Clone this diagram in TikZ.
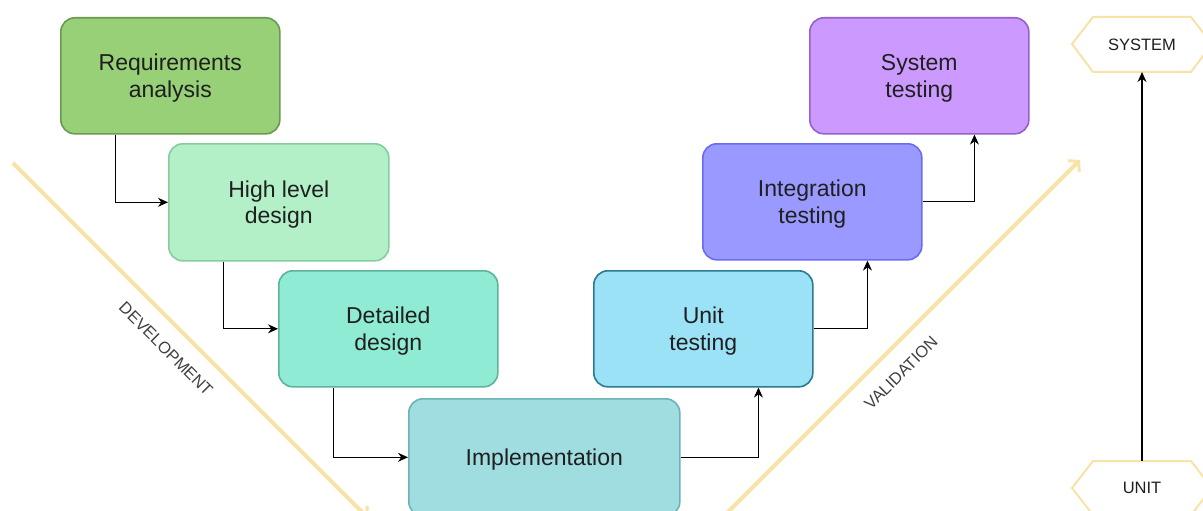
\documentclass[tikz,border=0pt]{standalone}
\usepackage{fontspec}
\setmainfont{Liberation Sans}
\usetikzlibrary{arrows.meta,calc}
\definecolor{reqF}{HTML}{97D077}\definecolor{reqD}{HTML}{6A9A52}
\definecolor{hldF}{HTML}{B3F0C8}\definecolor{hldD}{HTML}{86CC9E}
\definecolor{ddF}{HTML}{8FEBD3}\definecolor{ddD}{HTML}{5DB39B}
\definecolor{impF}{HTML}{A0DDE0}\definecolor{impD}{HTML}{6CB3B8}
\definecolor{unitF}{HTML}{9CE2F7}\definecolor{unitD}{HTML}{2B7A8F}
\definecolor{intF}{HTML}{9999FF}\definecolor{intD}{HTML}{6B6BF2}
\definecolor{sysF}{HTML}{CC99FF}\definecolor{sysD}{HTML}{9461CC}
\definecolor{diagC}{HTML}{F7E2A8}
\definecolor{txtC}{HTML}{1F1F1F}
\begin{document}
\begin{tikzpicture}[x=1pt,y=-1pt,
  stage/.style={draw, line width=1.6pt, rounded corners=14pt, minimum width=219pt, minimum height=116pt,
    anchor=north west, inner sep=0pt},
  stagetext/.style={align=center, text=txtC, font=\fontsize{23}{26.5}\selectfont, inner sep=0pt},
  conn/.style={draw=black, line width=1.2pt, -{Stealth[length=10pt,width=9pt]}},
  diag/.style={draw=diagC, line width=4pt, -{Straight Barb[length=7pt,width=16pt,line width=3pt]}},
  lbl/.style={text=txtC!85, font=\fontsize{16.5}{20}\selectfont, inner sep=0pt},
  hexa/.style={draw=diagC, line width=2pt, fill=white}]
\useasboundingbox (0,0) rectangle (1203,511);
\clip (0,0) rectangle (1203,511);
% diagonals
\draw[diag] (13,163) -- (368,518);
\draw[diag] (726,514) -- (1080,160);
\node[lbl, rotate=-45] (dev) at (166,349) {DEVELOPMENT};
\node[lbl, rotate=45] (val) at (901,373) {VALIDATION};
% stages
\node[stage, fill=reqF, draw=reqD] (req) at (60,17) {};
\node[stage, fill=hldF, draw=hldD, minimum width=220pt, minimum height=117pt] (hld) at (168,143) {};
\node[stage, fill=ddF, draw=ddD] (dd) at (278,270) {};
\node[stage, fill=impF, draw=impD, minimum width=271pt, minimum height=117pt] (imp) at (408,398) {};
\node[stage, fill=unitF, draw=unitD] (unit) at (593,270) {};
\node[stage, fill=intF, draw=intD] (int) at (702,143) {};
\node[stage, fill=sysF, draw=sysD] (sys) at (809,17) {};
\node[stagetext] (reqT) at ([yshift=-2.5pt]req.center) {Requirements\\analysis};
\node[stagetext] (hldT) at ([yshift=-2.5pt]hld.center) {High level\\design};
\node[stagetext] (ddT) at ([yshift=-2.5pt]dd.center) {Detailed\\design};
\node[stagetext] (impT) at ([yshift=-2pt]imp.center) {Implementation};
\node[stagetext] (unitT) at ([yshift=-2.5pt]unit.center) {Unit\\testing};
\node[stagetext] (intT) at ([yshift=-2.5pt]int.center) {Integration\\testing};
\node[stagetext] (sysT) at ([yshift=-2.5pt]sys.center) {System\\testing};
% connectors
\draw[conn] ($(req.south west)!0.25!(req.south east)$) |- (hld.west);
\draw[conn] ($(hld.south west)!0.25!(hld.south east)$) |- (dd.west);
\draw[conn] ($(dd.south west)!0.25!(dd.south east)$) |- (imp.west);
\draw[conn] (imp.east) -| ($(unit.south west)!0.75!(unit.south east)$);
\draw[conn] (unit.east) -| ($(int.south west)!0.75!(int.south east)$);
\draw[conn] (int.east) -| ($(sys.south west)!0.75!(sys.south east)$);
% hexagons
\draw[hexa] (1072,44) -- (1093,17) -- (1191,17) -- (1212,44) -- (1191,72) -- (1093,72) -- cycle;
\draw[hexa] (1072,488) -- (1093,461) -- (1191,461) -- (1212,488) -- (1191,515) -- (1093,515) -- cycle;
\node[lbl, text=txtC] (system) at (1142,45) {SYSTEM};
\node[lbl, text=txtC] (unitlbl) at (1142,488) {UNIT};
\coordinate (sysbot) at (1142,72);
\coordinate (unittop) at (1142,461);
\draw[conn] (unittop) -- (sysbot);
\end{tikzpicture}
\end{document}
